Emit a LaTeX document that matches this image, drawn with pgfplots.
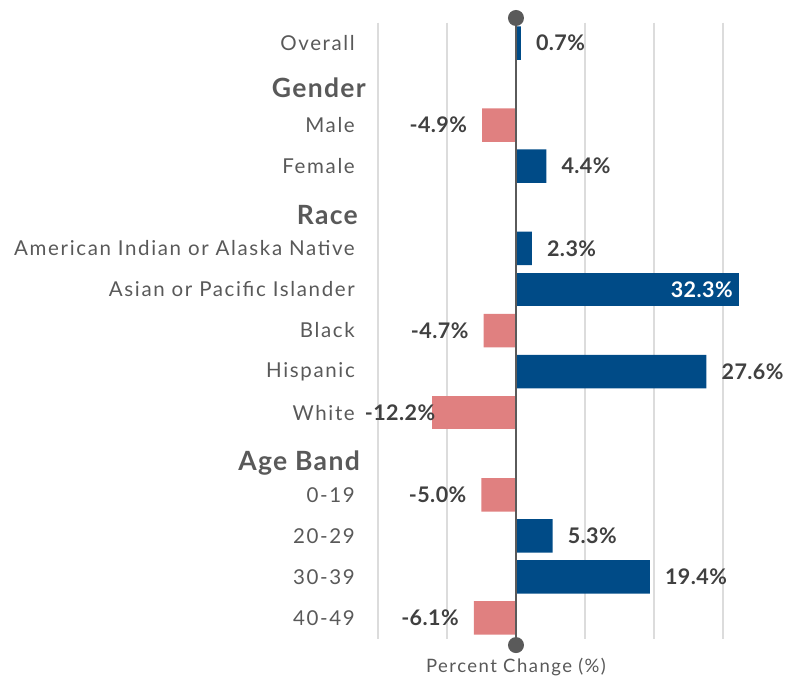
\documentclass[border=0pt]{standalone}
\usepackage{fontspec}
\setmainfont{Lato}
\newfontfamily\catfont[LetterSpace=8]{Lato}
\newfontfamily\hdfont[LetterSpace=5]{Lato}
\newfontfamily\valfont[LetterSpace=2]{Lato}
\usepackage{pgfplots}
\pgfplotsset{compat=1.18}
\definecolor{barblue}{HTML}{004B87}
\definecolor{barpink}{HTML}{E08080}
\definecolor{labgray}{HTML}{595959}
\definecolor{valgray}{HTML}{404040}
\definecolor{gridgray}{HTML}{DCDCDC}
\definecolor{axgray}{HTML}{5A5A5A}
\begin{document}
\begin{tikzpicture}[x=1pt,y=1pt]
\begin{axis}[
  at={(0,0)}, anchor=south west,
  scale only axis, width=345pt, height=616pt,
  xmin=-20, xmax=30, ymin=-0.5, ymax=14.5, y dir=reverse,
  axis line style={draw=none},
  xtick={-20,-10,10,20,30}, xticklabels={},
  xmajorgrids, grid style={gridgray, line width=2pt},
  major tick length=0pt,
  ytick={0,2,3,5,6,7,8,9,11,12,13,14},
  yticklabels={Overall,Male,Female,American Indian or Alaska Native,Asian or Pacific Islander,Black,Hispanic,White,0-19,20-29,30-39,40-49},
  yticklabel style={anchor=east, inner sep=0pt, xshift=-23pt, font=\catfont\fontsize{20.5}{20.5}\selectfont, text=labgray},
  xbar, bar width=33.5pt, bar shift=0pt,
  clip=false,
  point meta=explicit symbolic,
]
\addplot[draw=none, fill=barblue, bar shift=0pt, nodes near coords,
  every node near coord/.style={anchor=west, inner sep=0pt, xshift=15pt, font=\valfont\bfseries\fontsize{21.5}{21.5}\selectfont, text=valgray}]
  coordinates {(0.7,0)[0.7\%] (4.4,3)[4.4\%] (2.3,5)[2.3\%] (27.6,8)[27.6\%] (5.3,12)[5.3\%] (19.4,13)[19.4\%]};
\addplot[draw=none, fill=barblue, bar shift=0pt, nodes near coords,
  every node near coord/.style={anchor=east, inner sep=0pt, xshift=-6pt, font=\valfont\bfseries\fontsize{21.5}{21.5}\selectfont, text=white}]
  coordinates {(32.3,6)[32.3\%]};
\addplot[draw=none, fill=barpink, bar shift=0pt, nodes near coords,
  every node near coord/.style={anchor=east, inner sep=0pt, xshift=-15pt, font=\valfont\bfseries\fontsize{21.5}{21.5}\selectfont, text=valgray}]
  coordinates {(-4.9,2)[-4.9\%] (-4.7,7)[-4.7\%] (-5.0,11)[-5.0\%] (-6.1,14)[-6.1\%]};
\addplot[draw=none, fill=barpink, bar shift=0pt, nodes near coords,
  every node near coord/.style={anchor=east, inner sep=0pt, xshift=3.5pt, font=\valfont\bfseries\fontsize{21.5}{21.5}\selectfont, text=valgray}]
  coordinates {(-12.2,9)[-12.2\%]};
\draw[axgray, line width=2.3pt] (axis cs:0,-0.61) -- (axis cs:0,14.66);
\fill[axgray] (axis cs:0,-0.61) circle[radius=8pt];
\fill[axgray] (axis cs:0,14.66) circle[radius=8pt];
\node[font=\catfont\fontsize{18.5}{18.5}\selectfont, text=labgray] at (axis cs:0,15.19) {Percent Change (\%)};
\node[anchor=east, inner sep=0pt, xshift=-12pt, font=\hdfont\bfseries\fontsize{26.5}{26.5}\selectfont, text=labgray] at (axis cs:-20,1.096) {Gender};
\node[anchor=east, inner sep=0pt, xshift=-20pt, font=\hdfont\bfseries\fontsize{26.5}{26.5}\selectfont, text=labgray] at (axis cs:-20,4.19) {Race};
\node[anchor=east, inner sep=0pt, xshift=-18pt, font=\hdfont\bfseries\fontsize{26.5}{26.5}\selectfont, text=labgray] at (axis cs:-20,10.23) {Age Band};
\end{axis}
\pgfresetboundingbox
\path (-378,-41.5) rectangle (412,638.5);
\end{tikzpicture}
\end{document}
